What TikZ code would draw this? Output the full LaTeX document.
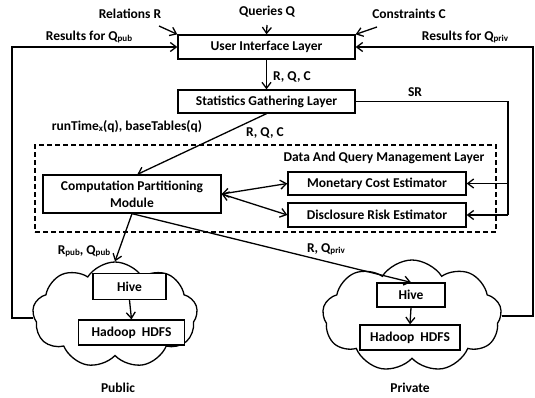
\documentclass[tikz,border=0pt]{standalone}
\usepackage{fontspec}
\setmainfont{Carlito}
\usetikzlibrary{shapes.symbols,arrows.meta,calc}
\newcommand\sbs[1]{\raisebox{-0.8pt}{\fontsize{9}{10}\selectfont #1}}
\begin{document}
\begin{tikzpicture}[x=1pt,y=-1pt,
  font=\fontsize{13.5}{15}\selectfont\bfseries,
  line width=1.3pt,
  box/.style={draw,inner sep=0pt,align=center},
  arr/.style={-{Straight Barb[length=6pt,width=9pt]}},
  darr/.style={{Straight Barb[length=6pt,width=9pt]}-{Straight Barb[length=6pt,width=9pt]}},
  lbl/.style={inner sep=0pt,anchor=center},
  cloudy/.style={draw,cloud,cloud puffs=9,cloud puff arc=115,inner sep=0pt}]
\useasboundingbox (0,0) rectangle (535,397);
% boxes
\node[box,minimum width=177pt,minimum height=24pt] (ui) at (266.5,47) {User Interface Layer};
\node[box,minimum width=177pt,minimum height=23pt] (stats) at (266.5,101.5) {Statistics Gathering Layer};
\node[draw,dash pattern=on 5pt off 3pt,minimum width=461pt,minimum height=87pt,inner sep=0pt] (dq) at (265.5,188.5) {};
\node[lbl] (dqlbl) at (384,158) {Data And Query Management Layer};
\node[box,minimum width=178pt,minimum height=38pt,font=\fontsize{13.5}{17}\selectfont\bfseries] (cpm) at (132,194) {Computation Partitioning\\Module};
\node[box,minimum width=178pt,minimum height=23pt] (mon) at (377,183.5) {Monetary Cost Estimator};
\node[box,minimum width=178pt,minimum height=24pt] (dis) at (377,215) {Disclosure Risk Estimator};
% clouds
\node[cloudy,minimum width=165pt,minimum height=106pt] (pubcloud) at (115,315) {};
\node[cloudy,minimum width=179pt,minimum height=112pt] (privcloud) at (412,316) {};
\node[box,fill=white,minimum width=73pt,minimum height=26pt] (pubhive) at (129.5,286.5) {Hive};
\node[box,fill=white,minimum width=106pt,minimum height=25pt] (pubhdfs) at (131.5,332.5) {Hadoop\ \ HDFS};
\node[box,fill=white,minimum width=68pt,minimum height=24pt] (privhive) at (411,295) {Hive};
\node[box,fill=white,minimum width=100pt,minimum height=25pt] (privhdfs) at (410,337.5) {Hadoop\ \ HDFS};
% texts
\node[lbl] (rel) at (130,14) {Relations R};
\node[lbl] (qry) at (267,12) {Queries Q};
\node[lbl] (con) at (409,14) {Constraints C};
\node[lbl] (respub) at (89,37) {Results for Q\sbs{pub}};
\node[lbl] (respriv) at (465,37) {Results for Q\sbs{priv}};
\node[lbl] (rqc1) at (292,77) {R, Q, C};
\node[lbl] (sr) at (415,92) {SR};
\node[lbl] (rt) at (127,127) {runTime\sbs{x}(q), baseTables(q)};
\node[lbl] (rqc2) at (265,133) {R, Q, C};
\node[lbl] (rpub) at (84,251) {R\sbs{pub}, Q\sbs{pub}};
\node[lbl] (rpriv) at (326,249) {R, Q\sbs{priv}};
\node[lbl] (publbl) at (118,388) {Public};
\node[lbl] (privlbl) at (410,388) {Private};
% coordinates
\coordinate (relA) at (159,26);
\coordinate (qryA) at (267,25);
\coordinate (conA) at (377,27);
\coordinate (L1) at (12,318);
\coordinate (R1) at (533,316);
\coordinate (S1) at (508,215);
% connectors
\draw[arr] (relA) -- (ui.north west);
\draw[arr] (qryA) -- (ui.north);
\draw[arr] (conA) -- (ui.north east);
\draw[arr] (pubcloud.west |- L1) -- (L1) |- (ui.west);
\draw[arr] (privcloud.east |- R1) -- (R1) |- (ui.east);
\draw[arr] (ui.south) -- (stats.north);
\draw (stats.east) -| (S1);
\draw[arr] (S1 |- mon.east) -- (mon.east);
\draw[arr] (S1) -- (dis.east);
\draw[arr] (stats.south) -- ($(cpm.north west)!0.53!(cpm.north east)$);
\draw[darr] (cpm.east) -- (mon.west);
\draw[darr] (cpm.east) -- (dis.west);
\draw[arr] (cpm.south) -- (pubcloud.north);
\draw[arr] (cpm.south) -- (privhive.north);
\draw[arr] (pubhive.south) -- (pubhdfs.north);
\draw[arr] (privhive.south) -- (privhdfs.north);
\end{tikzpicture}
\end{document}
